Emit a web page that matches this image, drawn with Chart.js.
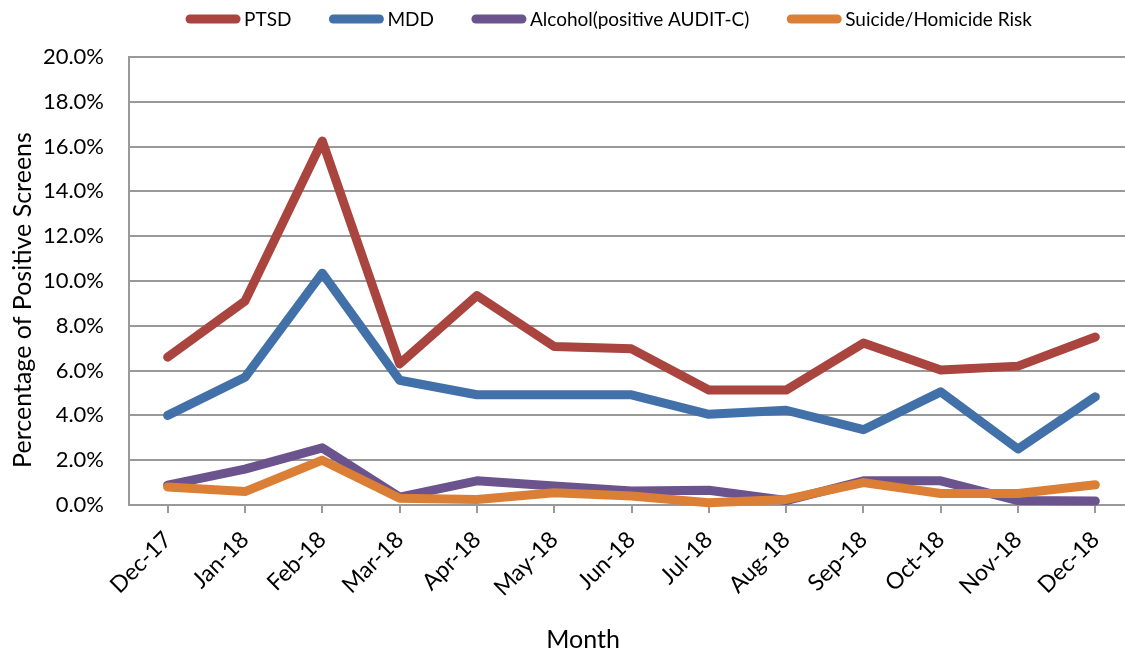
<!DOCTYPE html>
<html>
<head>
<meta charset="utf-8">
<script src="https://cdn.jsdelivr.net/npm/chart.js@4"></script>
<style>
  html, body { margin: 0; padding: 0; background: #fff; overflow: hidden; }
  #wrap { width: 1134px; height: 658px; }
</style>
</head>
<body>
<div id="wrap"><canvas id="chart"></canvas></div>
<script>
const months = ["Dec-17", "Jan-18", "Feb-18", "Mar-18", "Apr-18", "May-18", "Jun-18",
  "Jul-18", "Aug-18", "Sep-18", "Oct-18", "Nov-18", "Dec-18"];

// percent of positive screens
const ptsd = [6.6, 9.1, 16.25, 6.3, 9.35, 7.08, 6.97, 5.13, 5.13, 7.23, 6.03, 6.2, 7.5];
const mdd = [4.0, 5.7, 10.35, 5.57, 4.92, 4.92, 4.92, 4.05, 4.23, 3.36, 5.05, 2.5, 4.83];
const alcohol = [0.89, 1.6, 2.55, 0.35, 1.08, 0.85, 0.63, 0.66, 0.2, 1.08, 1.08, 0.2, 0.18];
const suicide = [0.8, 0.6, 2.0, 0.3, 0.25, 0.55, 0.4, 0.1, 0.25, 1.0, 0.51, 0.51, 0.9];

const yMax = 20;
const yStep = 2;

const FONT = "Lato, 'Open Sans', sans-serif";
const gridGray = "#999999";

function series(label, data, color, order) {
  return {
    label: label,
    data: data,
    borderColor: color,
    backgroundColor: color,
    borderWidth: 9,
    borderCapStyle: "round",
    borderJoinStyle: "round",
    pointRadius: 0,
    tension: 0,
    clip: false,
    order: order,
  };
}

// axis titles + legend drawn by hand so they sit where the original puts them
const extras = {
  id: "extras",
  afterDraw(chart) {
    const ctx = chart.ctx;
    ctx.save();
    ctx.fillStyle = "#000";
    ctx.textBaseline = "middle";

    ctx.font = "25px " + FONT;
    ctx.textAlign = "center";
    ctx.fillText("Month", 583, 640);

    ctx.save();
    ctx.translate(23, 300);
    ctx.rotate(-Math.PI / 2);
    ctx.fillText("Percentage of Positive Screens", 0, 0);
    ctx.restore();

    // legend
    ctx.font = "19px " + FONT;
    ctx.textAlign = "left";
    const lineLen = 46, textGap = 8, itemGap = 42;
    const items = chart.data.datasets.map(ds => ({
      label: ds.label, color: ds.borderColor,
      w: lineLen + textGap + ctx.measureText(ds.label).width,
    }));
    const total = items.reduce((s, it) => s + it.w, 0) + itemGap * (items.length - 1);
    let x = 611 - total / 2;
    const y = 19;
    items.forEach(it => {
      ctx.strokeStyle = it.color;
      ctx.lineWidth = 9;
      ctx.lineCap = "round";
      ctx.beginPath();
      ctx.moveTo(x, y);
      ctx.lineTo(x + lineLen, y);
      ctx.stroke();
      ctx.fillText(it.label, x + lineLen + textGap, y + 1);
      x += it.w + itemGap;
    });
    ctx.restore();
  },
};

new Chart(document.getElementById("chart"), {
  type: "line",
  data: {
    labels: months,
    datasets: [
      series("PTSD", ptsd, "#a9443f", 4),
      series("MDD", mdd, "#4270a8", 3),
      series("Alcohol(positive AUDIT-C)", alcohol, "#6b538d", 2),
      series("Suicide/Homicide Risk", suicide, "#dc7f36", 1),
    ],
  },
  options: {
    responsive: true,
    maintainAspectRatio: false,
    animation: false,
    layout: { padding: { top: 57, left: 0, right: 0, bottom: 0 } },
    plugins: {
      legend: { display: false },
      tooltip: { enabled: false },
    },
    scales: {
      x: {
        offset: true,
        afterFit: (scale) => { scale.height = 153; },
        grid: {
          offset: false,
          drawOnChartArea: false,
          drawTicks: true,
          tickLength: 8,
          color: gridGray,
          lineWidth: 2,
        },
        border: { color: gridGray, width: 2 },
        ticks: {
          autoSkip: false,
          minRotation: 45,
          maxRotation: 45,
          padding: 13,
          color: "#000",
          font: { family: FONT, size: 23 },
        },
      },
      y: {
        min: 0,
        max: yMax,
        afterFit: (scale) => { scale.width = 129; },
        grid: { color: gridGray, lineWidth: 2, drawTicks: false },
        border: { color: gridGray, width: 2 },
        ticks: {
          stepSize: yStep,
          padding: 25,
          color: "#000",
          font: { family: FONT, size: 22 },
          callback: (v) => v.toFixed(1) + "%",
        },
      },
    },
  },
  plugins: [extras],
});
</script>
</body>
</html>
